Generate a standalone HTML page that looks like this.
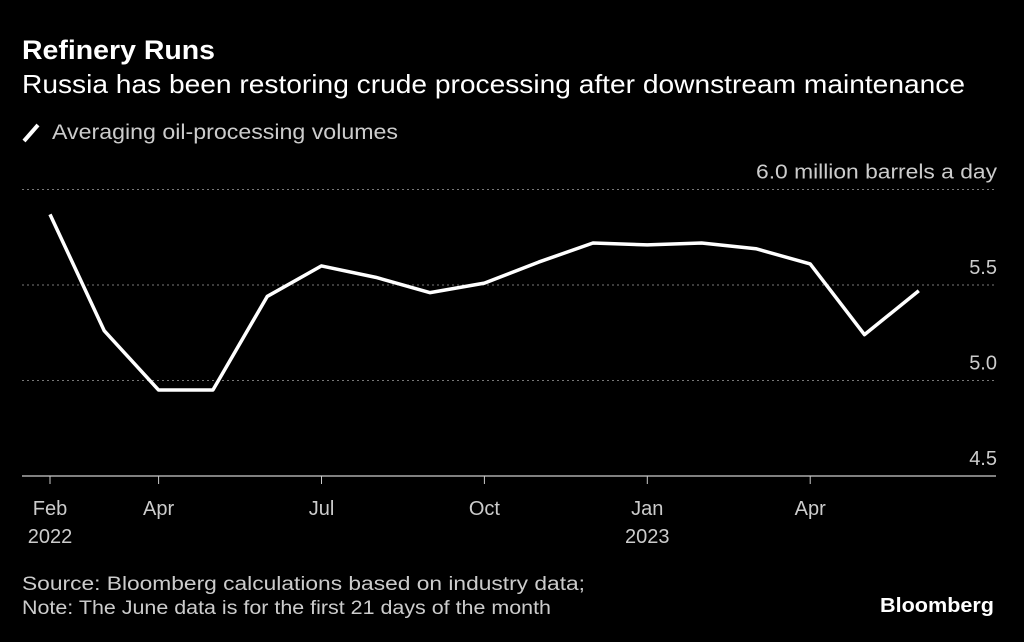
<!DOCTYPE html>
<html><head><meta charset="utf-8"><style>
body{margin:0;background:#000;width:1024px;height:642px;overflow:hidden;font-family:"Liberation Sans",sans-serif;color:#fff}
svg{position:absolute;left:0;top:0}
</style></head><body>
<svg width="1024" height="642">
<text x="22" y="59" font-size="27" font-weight="bold" fill="#fff" textLength="193" lengthAdjust="spacingAndGlyphs">Refinery Runs</text>
<text x="22" y="93" font-size="26" fill="#fff" textLength="943" lengthAdjust="spacingAndGlyphs">Russia has been restoring crude processing after downstream maintenance</text>
<line x1="24" y1="141" x2="38" y2="125" stroke="#fff" stroke-width="4"/>
<text x="52" y="139" font-size="21" fill="#ccc" textLength="346" lengthAdjust="spacingAndGlyphs">Averaging oil-processing volumes</text>
<g id="grid"></g>
<g id="xaxis"></g>
<path id="line" fill="none" stroke="#fff" stroke-width="3.5" stroke-linejoin="round"/>
<text x="22" y="590" font-size="19" fill="#ccc" textLength="563" lengthAdjust="spacingAndGlyphs">Source: Bloomberg calculations based on industry data;</text>
<text x="22" y="614" font-size="19" fill="#ccc" textLength="529" lengthAdjust="spacingAndGlyphs">Note: The June data is for the first 21 days of the month</text>
<text x="994" y="612" font-size="20" font-weight="bold" fill="#fff" text-anchor="end" textLength="114" lengthAdjust="spacingAndGlyphs">Bloomberg</text>
</svg>
<script>
const values=[5.87,5.26,4.95,4.95,5.44,5.60,5.54,5.46,5.51,5.62,5.72,5.71,5.72,5.69,5.61,5.24,5.47];
const yTicks=[4.5,5.0,5.5,6.0];
const xLabels=[[0,"Feb","2022"],[2,"Apr",""],[5,"Jul",""],[8,"Oct",""],[11,"Jan","2023"],[14,"Apr",""]];
const NS="http://www.w3.org/2000/svg";
const x=i=>50+i*54.3;
const y=v=>476-(v-4.5)*191;
const grid=document.getElementById('grid'),xa=document.getElementById('xaxis');
function mk(tag,attrs,parent,txt){const e=document.createElementNS(NS,tag);for(const k in attrs)e.setAttribute(k,attrs[k]);if(txt)e.textContent=txt;parent.appendChild(e);return e;}
yTicks.forEach(t=>{
  const ln=mk('line',{x1:22,x2:996,y1:y(t),y2:y(t),stroke:t===4.5?'#ccc':'#777','stroke-width':t===4.5?1.3:1,'stroke-dasharray':t===4.5?'':'2,3'},grid);
  
  
  const attrs={x:997,y:y(t)-11,'font-size':20,fill:'#ccc','text-anchor':'end'};
  if(t===6){attrs.textLength=241;attrs.lengthAdjust='spacingAndGlyphs';}
  const lab=mk('text',attrs,grid,t===6?'6.0 million barrels a day':t.toFixed(1));
  
  
});
xLabels.forEach(([i,m,yr])=>{
  const tk=mk('line',{x1:x(i),x2:x(i),y1:476,y2:484,stroke:'#ccc'},xa);
  
  
  const t=mk('text',{x:x(i),y:515,'font-size':20,fill:'#ccc','text-anchor':'middle'},xa,m);
  
  
  if(yr){const t2=mk('text',{x:x(i),y:543,'font-size':20,fill:'#ccc','text-anchor':'middle'},xa,yr);
  
  }
});
document.getElementById('line').setAttribute('d',values.map((v,i)=>(i?'L':'M')+x(i)+','+y(v)).join(''));
</script>
</body></html>
